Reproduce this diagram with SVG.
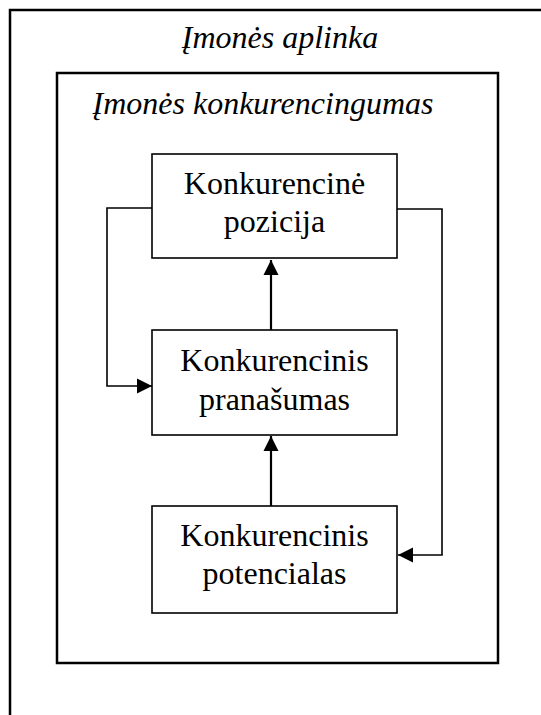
<svg xmlns="http://www.w3.org/2000/svg" width="541" height="715" viewBox="0 0 541 715">
  <style>
    .frame { fill: none; stroke: #000; stroke-width: 2.5; }
    .node rect { fill: #fff; stroke: #000; stroke-width: 1.6; }
    .label { font-family: "Liberation Serif", "Times New Roman", serif; font-size: 32px; fill: #000; text-anchor: middle; }
    .title { font-style: italic; }
    .wire { fill: none; stroke: #000; stroke-width: 1.6; }
    .stem { fill: none; stroke: #000; stroke-width: 2.2; }
  </style>
  <defs>
    <marker id="head" markerUnits="userSpaceOnUse" markerWidth="16" markerHeight="16" viewBox="0 0 16 16" refX="15" refY="8" orient="auto">
      <path d="M0,0.5 L15,8 L0,15.5 Z" fill="#000"/>
    </marker>
  </defs>

  <rect width="541" height="715" fill="#fff"/>

  <!-- environment frame -->
  <g id="environment">
    <rect class="frame" x="10" y="10" width="560" height="730"/>
    <text class="label title" x="280" y="48">Įmonės aplinka</text>
  </g>

  <!-- competitiveness frame -->
  <g id="competitiveness">
    <rect class="frame" x="57" y="73" width="441" height="590"/>
    <text class="label title" x="263" y="114">Įmonės konkurencingumas</text>
  </g>

  <!-- connectors -->
  <g id="connectors">
    <path class="stem" d="M271,330 L271,260" marker-end="url(#head)"/>
    <path class="stem" d="M271,506 L271,436" marker-end="url(#head)"/>
    <path class="wire" d="M152,208 L107,208 L107,386 L152,386" marker-end="url(#head)"/>
    <path class="wire" d="M397,209 L442,209 L442,555 L398,555" marker-end="url(#head)"/>
  </g>

  <g id="position" class="node">
    <rect x="152" y="154" width="245" height="104"/>
    <text class="label" x="274.5" y="194">Konkurencinė</text>
    <text class="label" x="274.5" y="232">pozicija</text>
  </g>

  <g id="advantage" class="node">
    <rect x="152" y="330" width="245" height="105"/>
    <text class="label" x="274.5" y="371">Konkurencinis</text>
    <text class="label" x="274.5" y="410">pranašumas</text>
  </g>

  <g id="potential" class="node">
    <rect x="152" y="506" width="245" height="107"/>
    <text class="label" x="274.5" y="546">Konkurencinis</text>
    <text class="label" x="274.5" y="584">potencialas</text>
  </g>
</svg>
